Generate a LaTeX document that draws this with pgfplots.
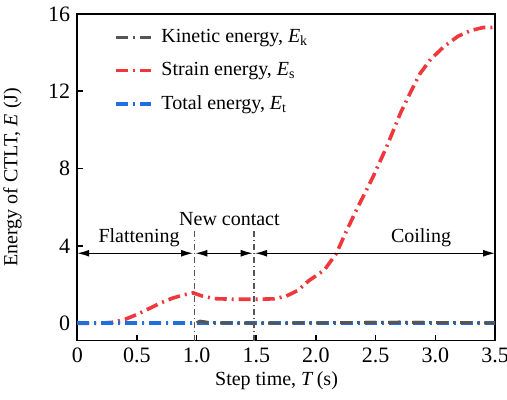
\documentclass[border=0pt]{standalone}
\usepackage{fontspec}
\setmainfont{Liberation Serif}
\usepackage{pgfplots}
\pgfplotsset{compat=1.18}
\usetikzlibrary{arrows.meta}
\definecolor{cred}{HTML}{F0383C}
\definecolor{cblue}{HTML}{1F6FE0}
\definecolor{cgray}{HTML}{555555}
\begin{document}
\begin{tikzpicture}
\begin{axis}[
  name=ax,
  scale only axis,
  width=209pt, height=163.4pt,
  xmin=0, xmax=3.5, ymin=-0.9, ymax=16,
  xtick={0,0.5,1,1.5,2,2.5,3,3.5},
  xticklabels={0,0.5,1.0,1.5,2.0,2.5,3.0,3.5},
  ytick={0,4,8,12,16},
  tick align=inside, xtick pos=bottom, ytick pos=left,
  major tick length=3pt,
  axis line style={line width=0.8pt},
  every tick/.style={black, line width=0.8pt},
  /pgf/number format/assume math mode=true,
  tick label style={font=\fontsize{11}{13}\selectfont},
  xlabel={Step time, \textit{T}\,(s)},
  ylabel={Energy of CTLT, \textit{E} (J)},
  xlabel style={at={(axis description cs:0.477,-0.124)}, anchor=center},
  ylabel style={at={(axis description cs:-0.155,0.5)}, anchor=center, rotate=0},
  clip=false,
  legend style={at={(axis description cs:0.0715,0.979)}, anchor=north west, draw=none, fill=none,
    row sep=4.5pt, font=\normalsize, nodes={inner xsep=2pt}},
  legend cell align=left,
  legend image code/.code={\draw[#1] (-2pt,0pt) -- (18pt,0pt);},
]
\addplot[cgray, line width=1.5pt, dash pattern=on 6pt off 2.5pt on 1pt off 2.5pt] coordinates {
(0,0) (0.5,0) (0.95,0) (1.0,0.02) (1.03,0.1) (1.08,0.05) (1.2,0.02) (1.5,0.0) (2.0,0.02) (2.5,0.04) (2.7,0.05) (3.0,0.03) (3.5,0.02)};
\addlegendentry{Kinetic energy, \textit{E}\textsubscript{k}}
\addplot[cred, line width=1.8pt, dash pattern=on 6pt off 2.5pt on 1pt off 2.5pt] coordinates {
(0,0) (0.2,0) (0.3,0.05) (0.4,0.2) (0.5,0.45) (0.6,0.75) (0.7,1.05) (0.8,1.3) (0.9,1.48) (0.97,1.57)
(1.05,1.4) (1.15,1.27) (1.3,1.24) (1.5,1.24) (1.65,1.26) (1.75,1.4) (1.85,1.7) (1.94,2.2) (2.07,2.75)
(2.17,3.6) (2.25,4.7) (2.35,6.0) (2.48,7.6) (2.59,9.1) (2.71,10.9) (2.78,11.8) (2.87,12.9) (2.96,13.65)
(3.07,14.3) (3.19,14.85) (3.3,15.15) (3.4,15.3) (3.5,15.3)};
\addlegendentry{Strain energy, \textit{E}\textsubscript{s}}
\addplot[cblue, line width=2pt, dash pattern=on 6pt off 2.5pt on 1pt off 2.5pt] coordinates {
(0,0) (3.5,0)};
\addlegendentry{Total energy, \textit{E}\textsubscript{t}}
\addplot[cgray, line width=1.5pt, dash pattern=on 6pt off 2.5pt on 1pt off 2.5pt, forget plot] coordinates {
(1.0,0.02) (1.03,0.1) (1.08,0.05) (1.2,0.02) (1.5,0.0) (2.0,0.02) (2.5,0.04) (2.7,0.05) (3.0,0.03) (3.5,0.02)};
% annotations
\draw[cgray, line width=0.6pt, dash pattern=on 3pt off 1.5pt on 0.5pt off 1.5pt] (axis cs:0.98,-0.9) -- (axis cs:0.98,4.94);
\draw[cgray, line width=0.6pt, dash pattern=on 3pt off 1.5pt on 0.5pt off 1.5pt] (axis cs:1.48,-0.9) -- (axis cs:1.48,4.94);
\draw[line width=0.6pt, {Latex[length=6pt,width=3.5pt]}-{Latex[length=6pt,width=3.5pt]}] (axis cs:0,3.62) -- (axis cs:0.97,3.62);
\draw[line width=0.6pt, {Latex[length=6pt,width=3.5pt]}-{Latex[length=6pt,width=3.5pt]}] (axis cs:0.99,3.62) -- (axis cs:1.47,3.62);
\draw[line width=0.6pt, {Latex[length=6pt,width=3.5pt]}-{Latex[length=6pt,width=3.5pt]}] (axis cs:1.49,3.62) -- (axis cs:3.5,3.62);
\node[anchor=center] at (axis cs:0.518,4.42) {Flattening};
\node[anchor=center] at (axis cs:1.275,5.4) {New contact};
\node[anchor=center] at (axis cs:2.88,4.42) {Coiling};
\end{axis}
\pgfresetboundingbox
\path ([shift={(-38.65pt,-29.65pt)}]ax.south west) rectangle ([shift={(6pt,7pt)}]ax.north east);
\end{tikzpicture}
\end{document}
